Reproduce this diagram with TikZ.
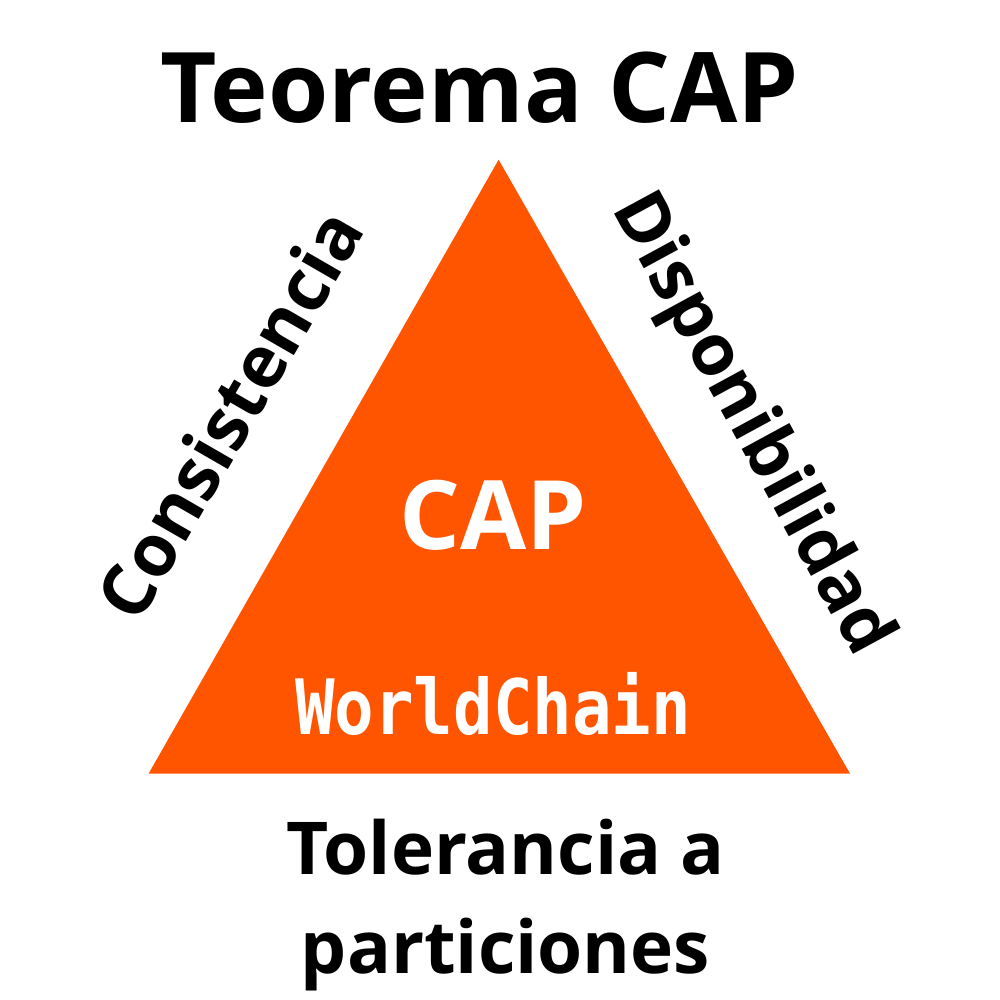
\documentclass[tikz,border=0pt]{standalone}
\usepackage{fontspec}
\setmainfont{Open Sans}
\newfontfamily\logofont{DejaVu Sans Mono}
\definecolor{capfill}{HTML}{FF5500}
\tikzset{
    heading/.style={inner sep=0pt, font=\fontsize{70.2}{70.2}\bfseries},
    sidelabel/.style={inner sep=0pt, font=\fontsize{52}{52}\bfseries},
    footlabel/.style={inner sep=0pt, font=\fontsize{52.5}{71}\bfseries, align=center},
}
\begin{document}
\begin{tikzpicture}[x=1pt,y=-1pt]

    \useasboundingbox (0,0) rectangle (720,720);

    \path[fill=capfill] (359,115) -- (612,557) -- (107,557) -- cycle;

    \node[heading] (title) at (345.5,63) {Teorema CAP};

    \node[sidelabel,rotate=60] (consistencia) at (165,298) {Consistencia};

    \node[sidelabel,rotate=-61.5,font=\fontsize{51.5}{51.5}\bfseries] (disponibilidad) at (540,306) {Disponibilidad};

    \node[heading,text=white,font=\fontsize{69}{69}\bfseries] (cap) at (355,371) {CAP};

    \node[inner sep=0pt,text=white,font=\fontsize{55}{55}\logofont\bfseries,xscale=.86,transform shape] (logo) at (355,507) {WorldChain};

    \node[footlabel] (tolerancia) at (364,651.5) {Tolerancia a\\particiones};

\end{tikzpicture}
\end{document}
